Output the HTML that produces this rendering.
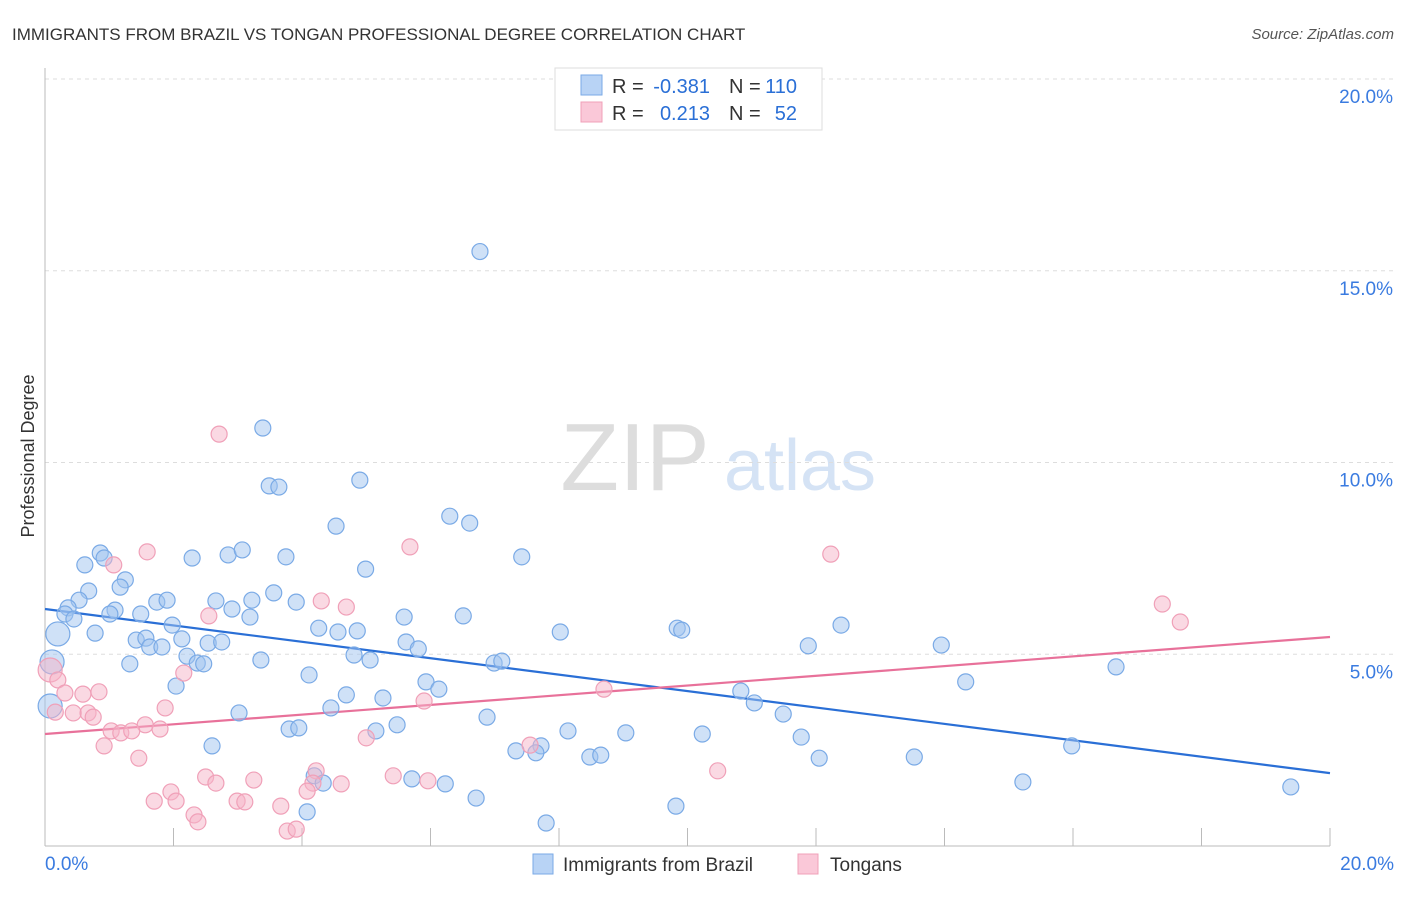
<!DOCTYPE html>
<html><head><meta charset="utf-8"><style>
body{margin:0;background:#fff;font-family:"Liberation Sans",sans-serif;}
svg text{font-family:"Liberation Sans",sans-serif;}
</style></head><body>
<svg id="chart" width="1406" height="892">
<text x="12" y="40" font-size="17" fill="#333">IMMIGRANTS FROM BRAZIL VS TONGAN PROFESSIONAL DEGREE CORRELATION CHART</text>
<text x="1394" y="39" font-size="15" fill="#555" font-style="italic" text-anchor="end">Source: ZipAtlas.com</text>
<text x="34" y="456" font-size="18" fill="#333" text-anchor="middle" transform="rotate(-90 34 456)">Professional Degree</text>
<g><text x="635" y="490" font-size="96" fill="#ddd" font-family="Liberation Serif" text-anchor="middle">ZIP</text><text x="800" y="490" font-size="72" fill="#d5e3f5" text-anchor="middle">atlas</text></g>
<g id="grid"></g><g id="axes"></g><g id="trend"></g><g id="points"></g>
<g>
<rect x="555" y="68" width="267" height="62" fill="#fff" stroke="#ddd"/>
<rect x="581" y="75" width="21" height="20" fill="#b8d3f5" stroke="#7aaae6"/>
<rect x="581" y="102" width="21" height="20" fill="#fac8d8" stroke="#f0a0b8"/>
<text x="612" y="93" font-size="20" fill="#333">R =</text>
<text x="710" y="93" font-size="20" fill="#2a6fd6" text-anchor="end">-0.381</text>
<text x="729" y="93" font-size="20" fill="#333">N =</text>
<text x="797" y="93" font-size="20" fill="#2a6fd6" text-anchor="end">110</text>
<text x="612" y="120" font-size="20" fill="#333">R =</text>
<text x="710" y="120" font-size="20" fill="#2a6fd6" text-anchor="end">0.213</text>
<text x="729" y="120" font-size="20" fill="#333">N =</text>
<text x="797" y="120" font-size="20" fill="#2a6fd6" text-anchor="end">52</text>
</g>
<g>
<rect x="533" y="854" width="20" height="20" fill="#b8d3f5" stroke="#7aaae6"/>
<text x="563" y="871" font-size="19" fill="#333">Immigrants from Brazil</text>
<rect x="798" y="854" width="20" height="20" fill="#fac8d8" stroke="#f0a0b8"/>
<text x="830" y="871" font-size="19" fill="#333">Tongans</text>
</g>
</svg>
<script>
const blueX=[6.77,3.39,3.49,3.64,4.90,6.30,6.61,4.53,0.86,0.92,2.29,2.85,3.07,3.75,7.42,4.99,0.62,1.25,1.17,0.68,3.56,0.53,0.36,0.31,0.45,1.09,1.01,1.49,1.74,1.90,2.66,2.91,3.22,3.19,3.91,5.59,6.51,0.20,0.78,1.98,1.42,1.57,1.63,1.82,2.13,2.54,2.75,4.26,4.56,4.86,5.62,5.81,8.02,9.84,9.91,12.39,11.88,13.95,0.11,1.32,2.21,2.37,2.47,3.36,4.81,5.06,6.99,7.11,16.67,4.11,2.04,5.93,6.13,4.69,5.26,14.33,10.83,11.04,0.08,4.45,3.02,6.88,11.49,3.80,3.95,5.15,5.48,8.14,9.04,10.23,11.77,2.60,7.33,7.72,7.64,8.48,8.65,15.98,12.05,13.53,4.19,4.33,5.71,6.23,15.22,19.39,6.71,4.08,9.82,7.80];
const blueY=[15.5,10.9,9.39,9.36,9.54,8.6,8.42,8.34,7.64,7.51,7.51,7.59,7.72,7.54,7.54,7.22,7.33,6.94,6.75,6.65,6.6,6.41,6.21,6.05,5.92,6.15,6.05,6.05,6.36,6.41,6.39,6.18,6.41,5.97,6.36,5.97,6.0,5.53,5.55,5.76,5.37,5.42,5.19,5.19,5.40,5.29,5.32,5.68,5.58,5.61,5.32,5.14,5.58,5.68,5.63,5.76,5.22,5.24,4.80,4.75,4.95,4.77,4.75,4.85,4.98,4.85,4.77,4.82,4.67,4.46,4.17,4.28,4.09,3.94,3.86,4.28,4.04,3.73,3.65,3.60,3.47,3.36,3.44,3.05,3.08,3.0,3.16,3.0,2.95,2.92,2.84,2.61,2.48,2.61,2.43,2.32,2.37,2.61,2.29,2.32,1.83,1.64,1.75,1.62,1.67,1.54,1.25,0.89,1.04,0.60];
const pinkX=[2.71,1.59,5.68,12.23,1.07,17.39,17.67,4.30,4.69,2.55,0.08,0.20,2.16,0.31,0.59,0.84,8.70,5.90,1.87,0.16,0.44,0.67,0.75,1.56,1.79,1.03,1.18,1.35,5.0,0.92,7.55,1.46,4.22,10.47,2.50,2.66,3.25,5.42,5.96,4.17,4.61,1.96,4.08,1.70,2.04,2.99,3.11,3.67,2.32,2.38,3.77,3.91];
const pinkY=[10.74,7.67,7.80,7.61,7.33,6.31,5.84,6.39,6.23,6.0,4.59,4.33,4.51,3.99,3.96,4.02,4.09,3.78,3.60,3.49,3.47,3.47,3.36,3.16,3.05,3.0,2.95,3.0,2.82,2.61,2.63,2.29,1.96,1.96,1.80,1.64,1.72,1.83,1.70,1.64,1.62,1.41,1.43,1.17,1.17,1.17,1.15,1.04,0.81,0.63,0.39,0.44];
const blueTrend=[6.18,1.90];
const pinkTrend=[2.92,5.45];
const yTicks=[5,10,15,20];
const yTickLabels=["5.0%","10.0%","15.0%","20.0%"];
const xTicks=[0,2,4,6,8,10,12,14,16,18,20];
const NS="http://www.w3.org/2000/svg";
const X=v=>45+v*64.25, Y=v=>846-v*38.35;
function mk(t,a,p){const e=document.createElementNS(NS,t);for(const k in a)e.setAttribute(k,a[k]);p.appendChild(e);return e;}
const grid=document.getElementById('grid'),axes=document.getElementById('axes');
yTicks.forEach((t,i)=>{const l=mk('line',{x1:45,x2:1394,y1:Y(t),y2:Y(t),stroke:'#ddd','stroke-dasharray':'4,4'},grid);


const tx=mk('text',{x:1393,y:Y(t)+24,'font-size':19,fill:'#3a7be0','text-anchor':'end'},axes);tx.textContent=yTickLabels[i];

});
const ax=mk('line',{x1:45,x2:1330,y1:846,y2:846,stroke:'#bbb'},axes);


const ay=mk('line',{x1:45,x2:45,y1:68,y2:846,stroke:'#bbb'},axes);


xTicks.forEach(t=>{const l=mk('line',{x1:X(t),x2:X(t),y1:828,y2:846,stroke:'#bbb'},axes);

});
[[0,'0.0%','start',45],[20,'20.0%','end',1394]].forEach(d=>{const tx=mk('text',{x:d[3],y:870,'font-size':19,fill:'#3a7be0','text-anchor':d[2]},axes);tx.textContent=d[1];

});
const pts=document.getElementById('points');
function draw(xs,ys,fill,stroke,name,bigLim){xs.forEach((x,i)=>{const big=x<bigLim;const c=mk('circle',{cx:X(x),cy:Y(ys[i]),r:big?12:8,fill:fill,stroke:stroke,'stroke-width':1.2},pts);

});}
draw(blueX,blueY,'rgba(160,196,240,0.5)','#7aaae6','point-brazil',0.25);
draw(pinkX,pinkY,'rgba(245,180,200,0.5)','#f0a0b8','point-tongan',0.1);
const tr=document.getElementById('trend');
const bl=mk('line',{x1:X(0),x2:X(20),y1:Y(blueTrend[0]),y2:Y(blueTrend[1]),stroke:'#2a6fd6','stroke-width':2.2},tr);


const pl=mk('line',{x1:X(0),x2:X(20),y1:Y(pinkTrend[0]),y2:Y(pinkTrend[1]),stroke:'#e8719a','stroke-width':2.2},tr);


</script>
</body></html>
